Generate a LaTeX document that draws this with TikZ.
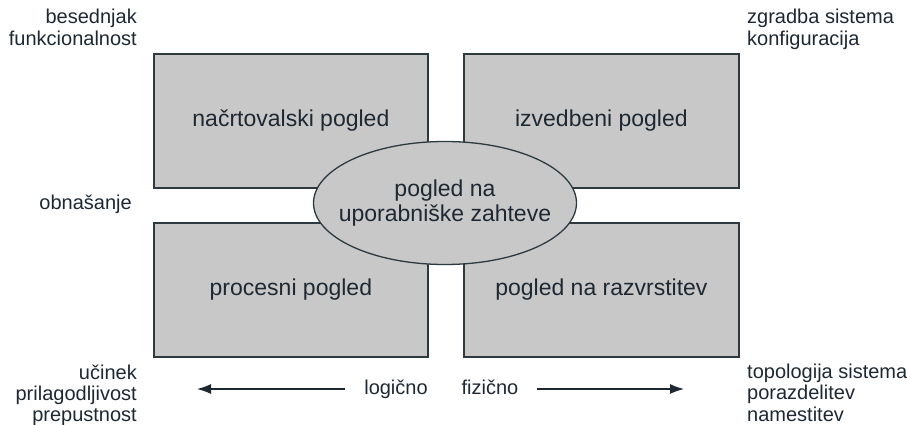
\documentclass[tikz,border=0pt]{standalone}
\usepackage{fontspec}
\setmainfont{Liberation Sans}
\usetikzlibrary{arrows.meta,shapes.geometric}
\definecolor{boxfill}{RGB}{200,200,200}
\definecolor{edge}{RGB}{45,58,64}
\definecolor{ink}{RGB}{30,40,50}
\tikzset{
  viewbox/.style={draw=edge,line width=1.8pt,fill=boxfill},
  boxtext/.style={text=ink,font=\fontsize{23}{26}\selectfont,inner sep=0pt},
  lbl/.style={text=ink,font=\fontsize{20}{22}\selectfont,inner sep=0pt},
  dirarrow/.style={draw=ink,line width=1.2pt,-{Latex[length=14pt,width=10pt]}}
}
\begin{document}
\begin{tikzpicture}[x=1pt,y=-1pt]
\useasboundingbox (0,0) rectangle (907,425);
% boxes
\node[viewbox,minimum width=274pt,minimum height=134pt,anchor=north west] (tl) at (153,53) {};
\node[viewbox,minimum width=275pt,minimum height=134pt,anchor=north west] (tr) at (463,53) {};
\node[viewbox,minimum width=274pt,minimum height=134pt,anchor=north west] (bl) at (153,222) {};
\node[viewbox,minimum width=275pt,minimum height=134pt,anchor=north west] (br) at (463,222) {};
\node[boxtext] (tlt) at (tl.center) {načrtovalski pogled};
\node[boxtext] (trt) at (tr.center) {izvedbeni pogled};
\node[boxtext] (blt) at (bl.center) {procesni pogled};
\node[boxtext] (brt) at (br.center) {pogled na razvrstitev};
% centre ellipse
\node[ellipse,draw=edge,line width=1.3pt,fill=boxfill,minimum width=263pt,minimum height=123pt,inner sep=0pt] (uc) at (445,203) {};
\node[boxtext,align=center] (uct) at (uc.center) {pogled na\\[-1pt]uporabniške zahteve};
% corner labels
\node[lbl,anchor=base east] (l1) at (137,24) {besednjak};
\node[lbl,anchor=base east] (l2) at (137,46) {funkcionalnost};
\node[lbl,anchor=base east] (l3) at (132,209) {obnašanje};
\node[lbl,anchor=base east] (l4) at (137,379) {učinek};
\node[lbl,anchor=base east] (l5) at (137,400) {prilagodljivost};
\node[lbl,anchor=base east] (l6) at (137,421) {prepustnost};
\node[lbl,anchor=base west] (r1) at (747,24) {zgradba sistema};
\node[lbl,anchor=base west] (r2) at (747,46) {konfiguracija};
\node[lbl,anchor=base west] (r3) at (747,378) {topologija sistema};
\node[lbl,anchor=base west] (r4) at (747,399) {porazdelitev};
\node[lbl,anchor=base west] (r5) at (747,421) {namestitev};
% bottom arrows
\node[lbl,anchor=base] (log) at (396,394) {logično};
\node[lbl,anchor=base] (fiz) at (490,394) {fizično};
\coordinate (lend) at (197,389);
\coordinate (rend) at (684,389);
\coordinate (lstart) at (345,389);
\coordinate (rstart) at (537,389);
\draw[dirarrow] (lstart) -- (lend);
\draw[dirarrow] (rstart) -- (rend);
\end{tikzpicture}
\end{document}
